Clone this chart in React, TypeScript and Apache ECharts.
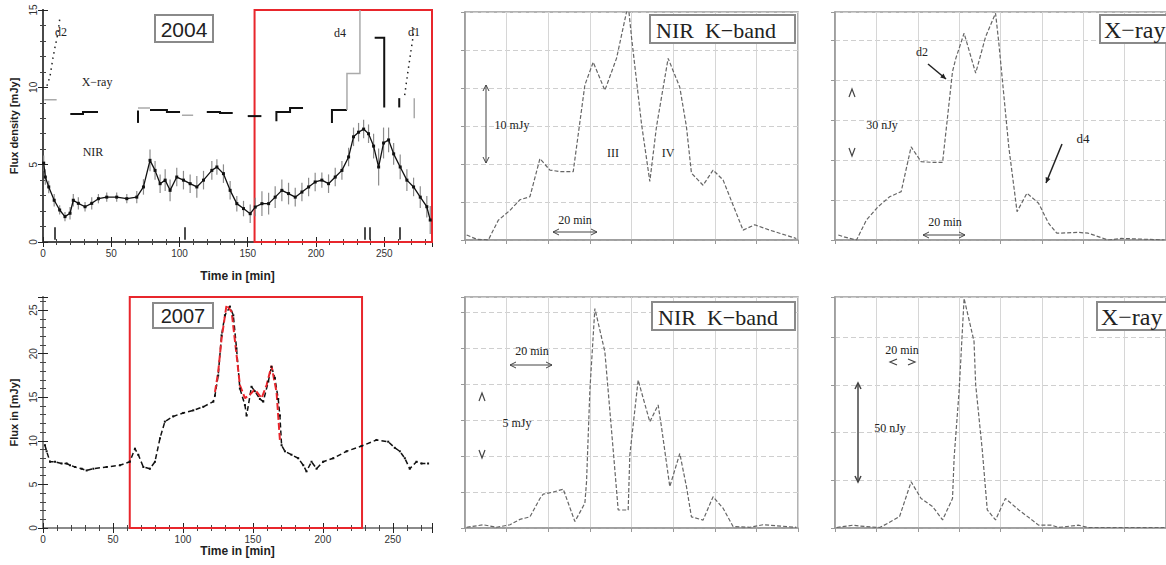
import React, { useEffect, useRef } from "react";
import * as echarts from "echarts";

// ---------------- data ----------------
// 2004 overview (top-left), time in min, flux in mJy
const nir2004Time = [0.5,1.7,4.2,8.2,12.2,16.1,19.8,22.2,25.9,30.8,35.7,40.6,46.7,54,61.4,68.7,73.6,78.4,82.1,85.8,89.5,93.1,98,102.9,107.8,112.7,117.6,123.7,127.4,132.2,137.1,142,146.9,151.8,155.5,160.4,165.3,170.1,175,179.9,184.8,189.7,194.6,199.4,204.3,209.2,214.1,219,223.9,227.5,231.2,234.9,238.5,242.2,245.9,249.5,253.2,256.9,261.7,266.6,271.5,276.4,281.2,283.7];
const nir2004Flux = [5.1,4.2,3.56,2.7,2.07,1.64,1.86,2.7,2.5,2.28,2.5,2.8,2.9,2.9,2.8,2.9,3.56,5.28,4.63,3.77,4.0,3.34,4.2,4.0,3.77,3.56,4.0,4.63,4.85,4.42,3.34,2.48,2.16,1.83,2.26,2.48,2.48,2.9,3.34,3.13,2.9,3.23,3.56,3.88,4.0,3.77,4.2,4.63,5.5,6.8,7.1,7.3,7.0,6.2,4.85,6.4,6.6,5.7,4.85,4.0,3.56,2.9,2.28,1.42];
const nir2004Err = [0.5,0.5,0.4,0.4,0.3,0.3,0.4,0.4, 0.4,0.3,0.4,0.3,0.3,0.3,0.3,0.4, 0.5,0.7,0.6,0.6,0.7,0.7,0.6,0.6, 0.6,0.7,0.6,0.6,0.5,0.6,0.6,0.5, 0.5,0.6,0.6,0.8,0.7,0.7,0.7,0.7, 0.6,0.6,0.6,0.6,0.5,0.6,0.6,0.6, 0.6,0.6,0.6,0.6,0.6,0.8,1.2,1.0, 0.8,0.7,0.8,0.7,0.6,0.7,0.7,0.9];
const xray2004Black = [
  [[20,8.27],[29.3,8.27],[29.3,8.4],[40.3,8.4]],
  [[69.6,7.7],[69.6,8.5]],
  [[78.4,8.53],[90.8,8.53],[90.8,8.4],[100.4,8.4]],
  [[120,8.4],[129.7,8.4],[129.7,8.34],[139,8.34]],
  [[150,8.14],[160,8.14]],
  [[171,7.8],[171,8.4],[181,8.4],[181,8.66],[190.5,8.66]],
  [[211.7,7.7],[211.7,8.53],[222.7,8.53]],
  [[243,13.2],[250,13.2],[250,8.7]],
  [[261,9.3],[261,8.7]],
];
const xray2004Gray = [
  [[1,9.2],[10,9.2]],
  [[69.6,8.66],[78.4,8.66]],
  [[101.8,8.2],[110,8.2]],
  [[222.7,8.53],[222.7,10.9],[232.2,10.9],[232.2,15]],
  [[272,9.3],[272,8.0]],
];
const xray2004Dotted = [
  [[2.9,10.1],[5.1,10.7],[7.3,11.9],[8.8,12.6],[11,13.5],[12.5,14.6]],
  [[265,9.5],[267,10.8],[269,12.0],[271,13.2],[272,14]],
];
const eventMarks2004 = [8.8, 104, 236, 239.5, 261.5];
const redWindow2004 = [155, 285];

// 2007 overview (bottom-left)
const nir2007Time = [1.4,2.6,5,8.6,13.3,16.9,19.3,22.9,27.6,31.2,36,45.5,55,62,65.7,68.1,71.7,76.4,80,83.6,87.1,93,100.2,107.4,114.5,121.7,122.9,125.2,127.6,130,133.6,136,138.3,140.7,144.3,145.5,149,151.4,155,157.4,161,163.3,165.7,168.1,169.3,170.5,172.9,177.6,182.4,186,188.3,191.9,195.5,200.2,207.4,216.9,227.6,238.3,246.7,251.4,255,258.6,262.1,266.9,270.5,275.2];
const nir2007Flux = [9.5,8.8,7.6,7.6,7.4,7.4,7.2,7.0,6.8,6.6,6.8,7.0,7.2,7.6,9.1,8.4,7.0,6.8,7.6,10.3,12.2,12.8,13.2,13.5,13.9,14.5,15.2,17.5,22.1,24.4,25.4,24.4,20.6,16.0,14.1,12.9,16.2,15.7,14.8,14.5,16.8,18.5,17.2,14.8,12.9,9.5,8.8,8.4,8.0,7.2,6.5,7.6,6.8,7.6,8.0,8.8,9.4,10.1,9.9,9.2,8.8,8.0,6.8,7.6,7.4,7.4];
const nirRed2007Time = [122.9,125.2,127.6,131.2,134.8,138.3,140.7,144.3,147.9,151.4,156.2,159.8,163.3,166.9,169.3];
const nirRed2007Flux = [15.6,17.9,21.7,25.6,24.8,19.9,16.4,14.9,15.3,15.9,14.9,16.4,18.6,15.6,10.1];
const redWindow2007 = [62, 228];

// zoomed flare panels, time in min
const nirK2004Time = [0.8,5.6,11.2,16,21.6,26.4,31.2,36,40.8,45.6,52,57.6,61.6,67.2,72.8,78.4,80,84.8,88.8,92,97.6,103.2,106.4,108.8,114.4,119.2,124,133.6,139.2,146.4,159.2];
const nirK2004Flux = [0.66,0.1,0,2.6,3.9,5.3,5.7,10.7,9.2,9.0,9.0,20.4,23.4,19.7,23.9,31,26.7,15.3,7.7,14.9,23.9,20.1,14.9,8.8,7.2,9.2,7.9,1.3,2.0,1.3,0.2];
const xray2004Time = [1.6,4.8,10.4,15.2,20.8,26.4,32,36.8,41.6,47.2,52,56.8,58.4,62.4,68,72.8,77.6,79.2,84,88,92.8,98.4,103.2,107.2,117.6,122.4,132,138.4,159.2];
const xray2004Flux = [1.25,0.7,0,5,8.3,10.8,12.1,23.3,19.6,19.4,19.4,42.1,45.4,51.7,41.7,50.8,56.7,49.2,23.3,7.1,11.7,9.2,4.2,1.7,1.9,1.7,0,0.4,0];
const nirK2007Time = [0.8,8.8,15.2,21.6,26.4,31.2,36,37.6,42.4,47.2,52.8,57.6,58.4,60,62.4,67.2,71.2,73.6,78.4,79.2,83.2,88.8,92.8,94.4,98.4,103.2,106.4,108.8,114.4,119.2,124,128.8,136.8,143.2,159.2];
const nirK2007Flux = [0.02,0.09,0.02,0.09,0.24,0.31,0.82,0.94,1.0,1.08,0.18,0.69,1.29,3.83,6.1,4.9,2.17,0.5,0.5,2.03,4.11,2.95,3.42,2.81,1.15,2.07,1.15,0.31,0.22,0.87,0.55,0.04,0.02,0.09,0.02];
const xray2007Time = [0.8,8.8,12,21.6,25.6,31.2,36.8,41.6,47.2,52,56.8,57.6,60,62.4,67.2,68,71.2,73.6,77.6,82.4,88.8,95.2,98.4,104.8,108,117.6,122.4,159.2];
const xray2007Flux = [0.01,0.06,0.04,0.01,0.10,0.24,0.97,0.62,0.45,0.17,0.62,1.49,2.88,4.82,3.92,3.01,1.63,0.38,0.17,0.62,0.38,0.17,0.06,0.06,0.01,0.06,0.01,0.01];

const overviewTicks = ["0", "50", "100", "150", "200", "250"];

// ---------------- helpers ----------------
const serif = '"Liberation Serif", "DejaVu Serif", serif';
const sans = '"Liberation Sans", "DejaVu Sans", sans-serif';
const zip = (a: number[], b: number[]) => a.map((v, i) => [v, b[i]]);

const txt = (x: number, y: number, text: string, size = 12, family = serif, align = "center") => ({
  type: "text", x, y, z: 100,
  style: { text, fontSize: size, fontFamily: family, fill: "#222", align, verticalAlign: "middle" },
});
const box = (x: number, y: number, w: number, h: number) => ({
  type: "rect", z: 99, shape: { x, y, width: w, height: h },
  style: { fill: "#fff", stroke: "#8a8a8a", lineWidth: 2 },
});
const seg = (x1: number, y1: number, x2: number, y2: number, w = 1, c = "#444") => ({
  type: "line", z: 100, shape: { x1, y1, x2, y2 }, style: { stroke: c, lineWidth: w },
});
const pl = (pts: number[][], w = 1, c = "#444") => ({
  type: "polyline", z: 100, shape: { points: pts }, style: { stroke: c, lineWidth: w, fill: "none" },
});
const vArrow = (x: number, y1: number, y2: number, w = 1) => [
  seg(x, y1, x, y2, w),
  pl([[x - 3, y1 + 6], [x, y1], [x + 3, y1 + 6]], w),
  pl([[x - 3, y2 - 6], [x, y2], [x + 3, y2 - 6]], w),
];
const hArrow = (x1: number, x2: number, y: number, w = 1) => [
  seg(x1, y, x2, y, w),
  pl([[x1 + 6, y - 3], [x1, y], [x1 + 6, y + 3]], w),
  pl([[x2 - 6, y - 3], [x2, y], [x2 - 6, y + 3]], w),
];
const arrowTo = (x1: number, y1: number, x2: number, y2: number, w = 1.5) => {
  const a = Math.atan2(y2 - y1, x2 - x1);
  const h = 6;
  return [
    seg(x1, y1, x2, y2, w, "#222"),
    { type: "polygon", z: 100, shape: { points: [[x2, y2], [x2 - h * Math.cos(a - 0.45), y2 - h * Math.sin(a - 0.45)], [x2 - h * Math.cos(a + 0.45), y2 - h * Math.sin(a + 0.45)]] }, style: { fill: "#222" } },
  ];
};

// ---------------- axes ----------------
const ovAxisLine = (c: string) => ({ show: true, lineStyle: { color: c, width: 2 } });
const ovTick = { show: true, inside: true, length: 5, lineStyle: { color: "#222" } };
const ovMinor = { show: true, splitNumber: 5, length: 3, lineStyle: { color: "#444" } };

function overviewAxes(grid: number, xmax: number, ymax: number, frame: string, yName: string, xGap: number) {
  const xs = [
    {
      gridIndex: grid, type: "value", min: 0, max: xmax, interval: 50, position: "bottom",
      axisLine: ovAxisLine(frame), axisTick: ovTick, minorTick: ovMinor, splitLine: { show: false },
      axisLabel: { fontSize: 10, color: "#333", margin: 6, fontFamily: sans, showMaxLabel: false,
        formatter: (v: number) => overviewTicks[Math.round(v / 50)] ?? "" },
      name: "Time in [min]", nameLocation: "middle", nameGap: xGap,
      nameTextStyle: { fontSize: 12, fontWeight: "bold", color: "#222", fontFamily: sans },
    },
    {
      gridIndex: grid, type: "value", min: 0, max: xmax, interval: 50, position: "top",
      axisLine: ovAxisLine(frame), axisTick: ovTick, minorTick: ovMinor, splitLine: { show: false },
      axisLabel: { show: false },
    },
  ];
  const ys = [
    {
      gridIndex: grid, type: "value", min: 0, max: ymax, interval: 5, position: "left",
      axisLine: ovAxisLine(frame), axisTick: ovTick, minorTick: ovMinor, splitLine: { show: false },
      axisLabel: { fontSize: 10, color: "#333", rotate: 90, margin: 5, fontFamily: sans, showMaxLabel: ymax % 5 === 0 },
      name: yName, nameLocation: "middle", nameGap: 24,
      nameTextStyle: { fontSize: 11, fontWeight: "bold", color: "#222", fontFamily: sans },
    },
    {
      gridIndex: grid, type: "value", min: 0, max: ymax, interval: 5, position: "right",
      axisLine: ovAxisLine(frame), axisTick: ovTick, minorTick: ovMinor, splitLine: { show: false },
      axisLabel: { show: false },
    },
  ];
  return { xs, ys };
}

function zoomAxes(grid: number, ymax: number, yInt: number) {
  const x = {
    gridIndex: grid, type: "value", min: 0, max: 160, interval: 20,
    axisLine: { show: true, lineStyle: { color: "#999", width: 1.5 } },
    axisTick: { show: true, inside: false, length: 4, lineStyle: { color: "#999" } },
    axisLabel: { show: false },
    splitLine: { show: true, lineStyle: { color: "#d6d6d6", width: 1 } },
  };
  const y = {
    gridIndex: grid, type: "value", min: 0, max: ymax, interval: yInt,
    axisLine: { show: true, lineStyle: { color: "#999", width: 1.5 } },
    axisTick: { show: true, inside: false, length: 4, lineStyle: { color: "#999" } },
    axisLabel: { show: false },
    splitLine: { show: true, lineStyle: { color: "#cfcfcf", width: 1, type: [5, 3] } },
  };
  return { x, y };
}

const ov0 = overviewAxes(0, 285, 15, "#4a4a4a", "Flux density [mJy]", 28);
const ov1 = overviewAxes(1, 278, 26.5, "#8a8a8a", "Flux in [mJy]", 16);
const z2 = zoomAxes(2, 30, 5);
const z3 = zoomAxes(3, 57, 10);
const z4 = zoomAxes(4, 6.42, 1);
const z5 = zoomAxes(5, 4.85, 1);

const zoomLine = { color: "#666", width: 1.2, type: [4, 2] };

const option: any = {
  animation: false,
  backgroundColor: "#fff",
  grid: [
    { left: 43, top: 10, width: 389, height: 232 },
    { left: 43, top: 297, width: 389, height: 231 },
    { left: 465, top: 12, width: 333, height: 228, show: true, borderColor: "#999", borderWidth: 1.5, backgroundColor: "transparent" },
    { left: 835, top: 12, width: 333, height: 228, show: true, borderColor: "#999", borderWidth: 1.5, backgroundColor: "transparent" },
    { left: 465, top: 297, width: 333, height: 231, show: true, borderColor: "#999", borderWidth: 1.5, backgroundColor: "transparent" },
    { left: 835, top: 297, width: 333, height: 231, show: true, borderColor: "#999", borderWidth: 1.5, backgroundColor: "transparent" },
  ],
  xAxis: [...ov0.xs, ...ov1.xs, z2.x, z3.x, z4.x, z5.x],
  yAxis: [...ov0.ys, ...ov1.ys, z2.y, z3.y, z4.y, z5.y],
  series: [
    // ---- 2004 overview ----
    {
      type: "custom", xAxisIndex: 0, yAxisIndex: 0,
      data: nir2004Time.map((t, i) => [t, nir2004Flux[i], nir2004Err[i]]),
      encode: { x: 0, y: 1 },
      renderItem: (_p: any, api: any) => {
        const x = api.value(0), y = api.value(1), e = api.value(2);
        const a = api.coord([x, y - e]);
        const b = api.coord([x, y + e]);
        return { type: "line", shape: { x1: a[0], y1: a[1], x2: b[0], y2: b[1] }, style: { stroke: "#8c8c8c", lineWidth: 1.2 } };
      },
    },
    {
      type: "line", xAxisIndex: 0, yAxisIndex: 0, data: zip(nir2004Time, nir2004Flux),
      symbol: "rect", symbolSize: 3, itemStyle: { color: "#111" },
      lineStyle: { color: "#111", width: 1.3 },
      markArea: {
        silent: true,
        itemStyle: { color: "rgba(0,0,0,0)", borderColor: "#e8262c", borderWidth: 2 },
        data: [[{ xAxis: redWindow2004[0], yAxis: 0 }, { xAxis: redWindow2004[1], yAxis: 15 }]],
      },
    },
    {
      type: "lines", coordinateSystem: "cartesian2d", xAxisIndex: 0, yAxisIndex: 0, polyline: true,
      data: xray2004Black.map((c) => ({ coords: c })), lineStyle: { color: "#111", width: 2, opacity: 1 },
    },
    {
      type: "lines", coordinateSystem: "cartesian2d", xAxisIndex: 0, yAxisIndex: 0, polyline: true,
      data: xray2004Gray.map((c) => ({ coords: c })), lineStyle: { color: "#aaa", width: 1.5, opacity: 1 },
    },
    {
      type: "lines", coordinateSystem: "cartesian2d", xAxisIndex: 0, yAxisIndex: 0, polyline: true,
      data: xray2004Dotted.map((c) => ({ coords: c })), lineStyle: { color: "#222", width: 1.5, type: [1.5, 4], opacity: 1 },
    },
    {
      type: "lines", coordinateSystem: "cartesian2d", xAxisIndex: 0, yAxisIndex: 0,
      data: eventMarks2004.map((t) => ({ coords: [[t, 0.15], [t, 0.95]] })), lineStyle: { color: "#111", width: 1.5, opacity: 1 },
    },
    // ---- 2007 overview ----
    {
      type: "line", xAxisIndex: 2, yAxisIndex: 2, data: zip(nir2007Time, nir2007Flux),
      symbol: "rect", symbolSize: 2, itemStyle: { color: "#111" },
      lineStyle: { color: "#111", width: 1.5, type: [5, 3] },
      markArea: {
        silent: true,
        itemStyle: { color: "rgba(0,0,0,0)", borderColor: "#e8262c", borderWidth: 2 },
        data: [[{ xAxis: redWindow2007[0], yAxis: 0 }, { xAxis: redWindow2007[1], yAxis: 26.5 }]],
      },
    },
    {
      type: "line", xAxisIndex: 2, yAxisIndex: 2, data: zip(nirRed2007Time, nirRed2007Flux),
      symbol: "none", lineStyle: { color: "#e8262c", width: 2, type: [7, 3] },
    },
    // ---- zoom panels ----
    { type: "line", xAxisIndex: 4, yAxisIndex: 4, data: zip(nirK2004Time, nirK2004Flux), symbol: "none", lineStyle: zoomLine },
    { type: "line", xAxisIndex: 5, yAxisIndex: 5, data: zip(xray2004Time, xray2004Flux), symbol: "none", lineStyle: zoomLine },
    { type: "line", xAxisIndex: 6, yAxisIndex: 6, data: zip(nirK2007Time, nirK2007Flux), symbol: "none", lineStyle: zoomLine },
    { type: "line", xAxisIndex: 7, yAxisIndex: 7, data: zip(xray2007Time, xray2007Flux), symbol: "none", lineStyle: zoomLine },
  ],
  graphic: {
    elements: [
      // overview labels
      box(155, 15, 58, 27), txt(184, 29, "2004", 21, sans),
      box(153, 303, 60, 25), txt(183, 316, "2007", 20, sans),
      txt(97, 82, "X−ray", 12, serif), txt(93, 152, "NIR", 12, serif),
      txt(61, 32, "d2", 12, serif), txt(340, 33, "d4", 12, serif), txt(414, 32, "d1", 12, serif),
      // top NIR
      box(650, 15, 145, 28), txt(656, 30, "NIR  K−band", 22, serif, "left"),
      ...vArrow(486, 85, 163), txt(512, 125, "10 mJy", 12, serif),
      txt(613, 153, "III", 12, serif), txt(668, 153, "IV", 12, serif),
      txt(575, 220, "20 min", 12, serif), ...hArrow(553, 597, 232),
      // top X-ray
      box(1100, 15, 72, 28), txt(1104, 30, "X−ray", 24, serif, "left"),
      pl([[849, 97], [852, 89], [855, 97]], 1.2), pl([[849, 148], [852, 156], [855, 148]], 1.2),
      txt(882, 125, "30 nJy", 12, serif),
      txt(922, 52, "d2", 12, serif), ...arrowTo(928, 64, 946, 79),
      txt(1083, 138, "d4", 13, serif), ...arrowTo(1062, 144, 1046, 183),
      txt(945, 222, "20 min", 12, serif), ...hArrow(923, 965, 235),
      // bottom NIR
      box(652, 302, 143, 28), txt(658, 317, "NIR  K−band", 22, serif, "left"),
      txt(532, 351, "20 min", 12, serif), ...hArrow(510, 552, 365),
      pl([[479, 401], [482, 393], [485, 401]], 1.2), pl([[479, 450], [482, 458], [485, 450]], 1.2),
      txt(517, 423, "5 mJy", 12, serif),
      // bottom X-ray
      box(1097, 302, 72, 28), txt(1101, 317, "X−ray", 24, serif, "left"),
      txt(902, 350, "20 min", 12, serif),
      pl([[897, 359], [890, 362], [897, 365]], 1.2), pl([[908, 359], [915, 362], [908, 365]], 1.2),
      ...vArrow(858, 383, 482, 1.5), txt(890, 428, "50 nJy", 12, serif),
    ],
  },
};

export default function App() {
  const ref = useRef<HTMLDivElement>(null);
  useEffect(() => {
    if (!ref.current) return;
    const chart = echarts.init(ref.current, null, { renderer: "svg" });
    chart.setOption(option);
    return () => chart.dispose();
  }, []);
  return (
    <div
      ref={ref}
      style={{ position: "fixed", left: 0, top: 0, width: 1166, height: 565, background: "#fff" }}
    />
  );
}
